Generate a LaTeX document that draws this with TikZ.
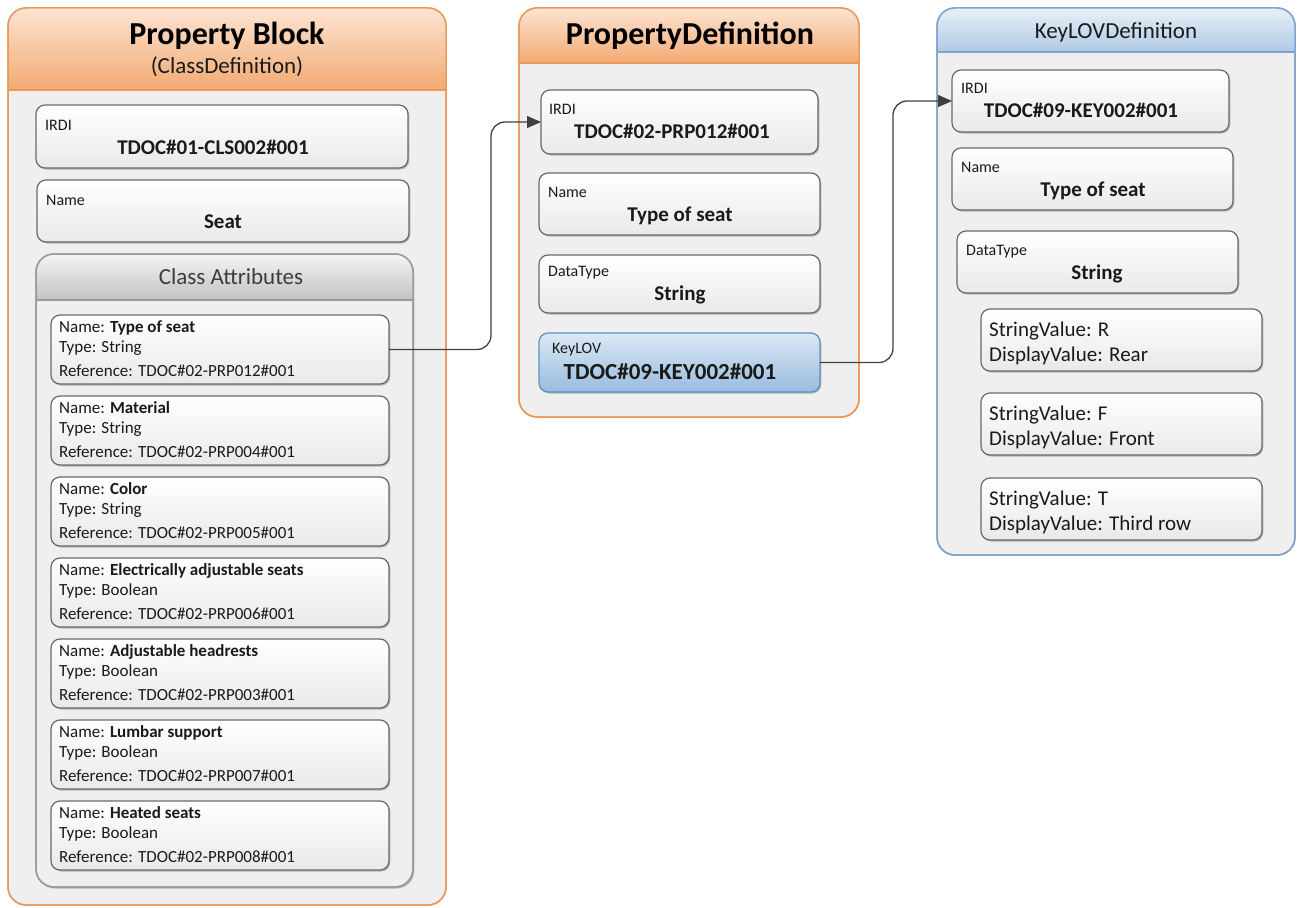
\documentclass[tikz,border=0pt]{standalone}
\usepackage{fontspec}
\setmainfont{Carlito}
\usetikzlibrary{shadows,arrows.meta}
\newcommand{\fsz}[1]{\fontsize{#1}{#1}\selectfont}

\definecolor{orangeline}{HTML}{EA995A}
\definecolor{orangetop}{HTML}{FCE4D2}
\definecolor{orangebot}{HTML}{F2AA72}
\definecolor{blueline}{HTML}{7DA4CC}
\definecolor{bluetop}{HTML}{E8F0F8}
\definecolor{bluebot}{HTML}{AEC9E4}
\definecolor{bodygray}{HTML}{EFEFEF}
\definecolor{grayline}{HTML}{9A9A9A}
\definecolor{graytop}{HTML}{F4F4F4}
\definecolor{graybot}{HTML}{C2C2C2}
\definecolor{fieldline}{HTML}{6A6A6A}
\definecolor{fieldbot}{HTML}{E9E9E9}
\definecolor{keyline}{HTML}{5F8FC2}
\definecolor{keytop}{HTML}{DCE8F4}
\definecolor{keybot}{HTML}{98BCDF}
\definecolor{txt}{HTML}{1A1A1A}
\definecolor{conncol}{HTML}{404040}

% header band of a container: node name, band height, line, top and bottom colours
\newcommand{\boxheader}[5]{%
  \begin{scope}
    \clip[rounded corners=18pt] (#1.north west) rectangle (#1.south east);
    \shade[top color=#4, bottom color=#5]
      (#1.north west) rectangle ([yshift=-#2]#1.north east);
  \end{scope}
  \draw[#3, line width=1.5pt]
    ([yshift=-#2]#1.north west) -- ([yshift=-#2]#1.north east);
  \draw[#3, line width=1.5pt, rounded corners=18pt]
    (#1.north west) rectangle (#1.south east);
}

\tikzset{
  container/.style={draw=#1, fill=bodygray, line width=1.5pt,
    rounded corners=18pt, anchor=north west, inner sep=0pt, outer sep=0pt},
  softshadow/.style={drop shadow={shadow xshift=1.3pt, shadow yshift=-1.5pt,
    opacity=0.25, fill=black}},
  fieldbox/.style 2 args={draw=fieldline, line width=1.2pt, rounded corners=9pt,
    top color=white, bottom color=fieldbot, softshadow,
    anchor=north west, inner sep=0pt, outer sep=0pt,
    minimum width=#1, minimum height=#2},
  keybox/.style 2 args={fieldbox={#1}{#2}, draw=keyline,
    top color=keytop, bottom color=keybot},
  lbl/.style={anchor=base west, inner sep=0pt, font=\fsz{16}, text=txt},
  val/.style={anchor=base, inner sep=0pt, font=\bfseries\fsz{21}, text=txt},
  attr/.style={anchor=base west, inner sep=0pt, font=\fsz{17}, text=txt},
  title/.style={anchor=base, inner sep=0pt, text=black},
  conn/.style={draw=conncol, line width=1.3pt, rounded corners=14pt,
    -{Triangle[length=14pt, width=12pt]}},
}

\begin{document}
\begin{tikzpicture}[x=1pt, y=-1pt]
\useasboundingbox (0,0) rectangle (1297,907);

% ---------------- Property Block (ClassDefinition) ----------------
\node[container=orangeline, minimum width=438pt, minimum height=897pt] (pb) at (8,8) {};
\boxheader{pb}{82pt}{orangeline}{orangetop}{orangebot}
\node[title, font=\bfseries\fsz{32}] (pbtitle) at (227,45) {Property Block};
\node[title, font=\fsz{23}, text=txt] (pbsub) at (227,74) {(ClassDefinition)};

\node[fieldbox={372pt}{63pt}] (pbirdi) at (36,105) {};
\node[lbl] (pbirdiL) at (45,130) {IRDI};
\node[val] (pbirdiV) at (213,154) {TDOC\#01-CLS002\#001};

\node[fieldbox={372pt}{62pt}] (pbname) at (37,180) {};
\node[lbl] (pbnameL) at (46,205) {Name};
\node[val] (pbnameV) at (223,228) {Seat};

% Class attributes group
\node[container=grayline, softshadow, minimum width=377pt, minimum height=633pt] (ca) at (36,254) {};
\boxheader{ca}{46pt}{grayline}{graytop}{graybot}
\node[title, font=\fsz{23}, text=txt!85] (catitle) at (231,284) {Class Attributes};

\foreach \i/\nm/\ty/\rf in {
    0/Type of seat/String/012,
    1/Material/String/004,
    2/Color/String/005,
    3/Electrically adjustable seats/Boolean/006,
    4/Adjustable headrests/Boolean/003,
    5/Lumbar support/Boolean/007,
    6/Heated seats/Boolean/008}{
  \node[fieldbox={338pt}{69pt}] (attr\i) at (51,{315+81*\i}) {};
  \node[attr] (attrN\i) at (59,{332+81*\i}) {Name: \textbf{\nm}};
  \node[attr] (attrT\i) at (59,{352+81*\i}) {Type: \ty};
  \node[attr] (attrR\i) at (59,{376+81*\i}) {Reference: TDOC\#02-PRP\rf\#001};
}

% ---------------- PropertyDefinition ----------------
\node[container=orangeline, minimum width=340pt, minimum height=409pt] (pd) at (519,8) {};
\boxheader{pd}{55pt}{orangeline}{orangetop}{orangebot}
\node[title, font=\bfseries\fsz{32}] (pdtitle) at (690,45) {PropertyDefinition};

\node[fieldbox={277pt}{64pt}] (pdirdi) at (541,90) {};
\node[lbl] (pdirdiL) at (549,114) {IRDI};
\node[val] (pdirdiV) at (672,138) {TDOC\#02-PRP012\#001};

\node[fieldbox={281pt}{62pt}] (pdname) at (539,173) {};
\node[lbl] (pdnameL) at (548,197) {Name};
\node[val] (pdnameV) at (680,221) {Type of seat};

\node[fieldbox={281pt}{58pt}] (pdtype) at (539,255) {};
\node[lbl] (pdtypeL) at (548,276) {DataType};
\node[val] (pdtypeV) at (680,300) {String};

\node[keybox={281pt}{59pt}] (pdkey) at (539,333) {};
\node[lbl] (pdkeyL) at (552,353) {KeyLOV};
\node[val, font=\bfseries\fsz{23}] (pdkeyV) at (670,379) {TDOC\#09-KEY002\#001};

% ---------------- KeyLOVDefinition ----------------
\node[container=blueline, minimum width=358pt, minimum height=547pt] (kd) at (937,8) {};
\boxheader{kd}{44pt}{blueline}{bluetop}{bluebot}
\node[title, font=\fsz{23}, text=txt] (kdtitle) at (1116,38) {KeyLOVDefinition};

\node[fieldbox={277pt}{62pt}] (kdirdi) at (952,70) {};
\node[lbl] (kdirdiL) at (961,93) {IRDI};
\node[val] (kdirdiV) at (1081,117) {TDOC\#09-KEY002\#001};

\node[fieldbox={281pt}{62pt}] (kdname) at (952,148) {};
\node[lbl] (kdnameL) at (961,172) {Name};
\node[val] (kdnameV) at (1093,196) {Type of seat};

\node[fieldbox={281pt}{62pt}] (kdtype) at (957,231) {};
\node[lbl] (kdtypeL) at (966,255) {DataType};
\node[val] (kdtypeV) at (1097,279) {String};

\foreach \i/\sv/\dv/\yy in {0/R/Rear/309, 1/F/Front/393, 2/T/Third row/478}{
  \node[fieldbox={281pt}{62pt}] (kv\i) at (981,\yy) {};
  \node[attr, font=\fsz{21}] (kvS\i) at (989,{\yy+27}) {StringValue: \sv};
  \node[attr, font=\fsz{21}] (kvD\i) at (989,{\yy+52}) {DisplayValue: \dv};
}

% ---------------- connectors ----------------
\draw[conn] (attr0.east) -- ++(102,0) |- (pdirdi.west);
\draw[conn] (pdkey.east) -- ++(73,0) |- (kdirdi.west);
\end{tikzpicture}
\end{document}
